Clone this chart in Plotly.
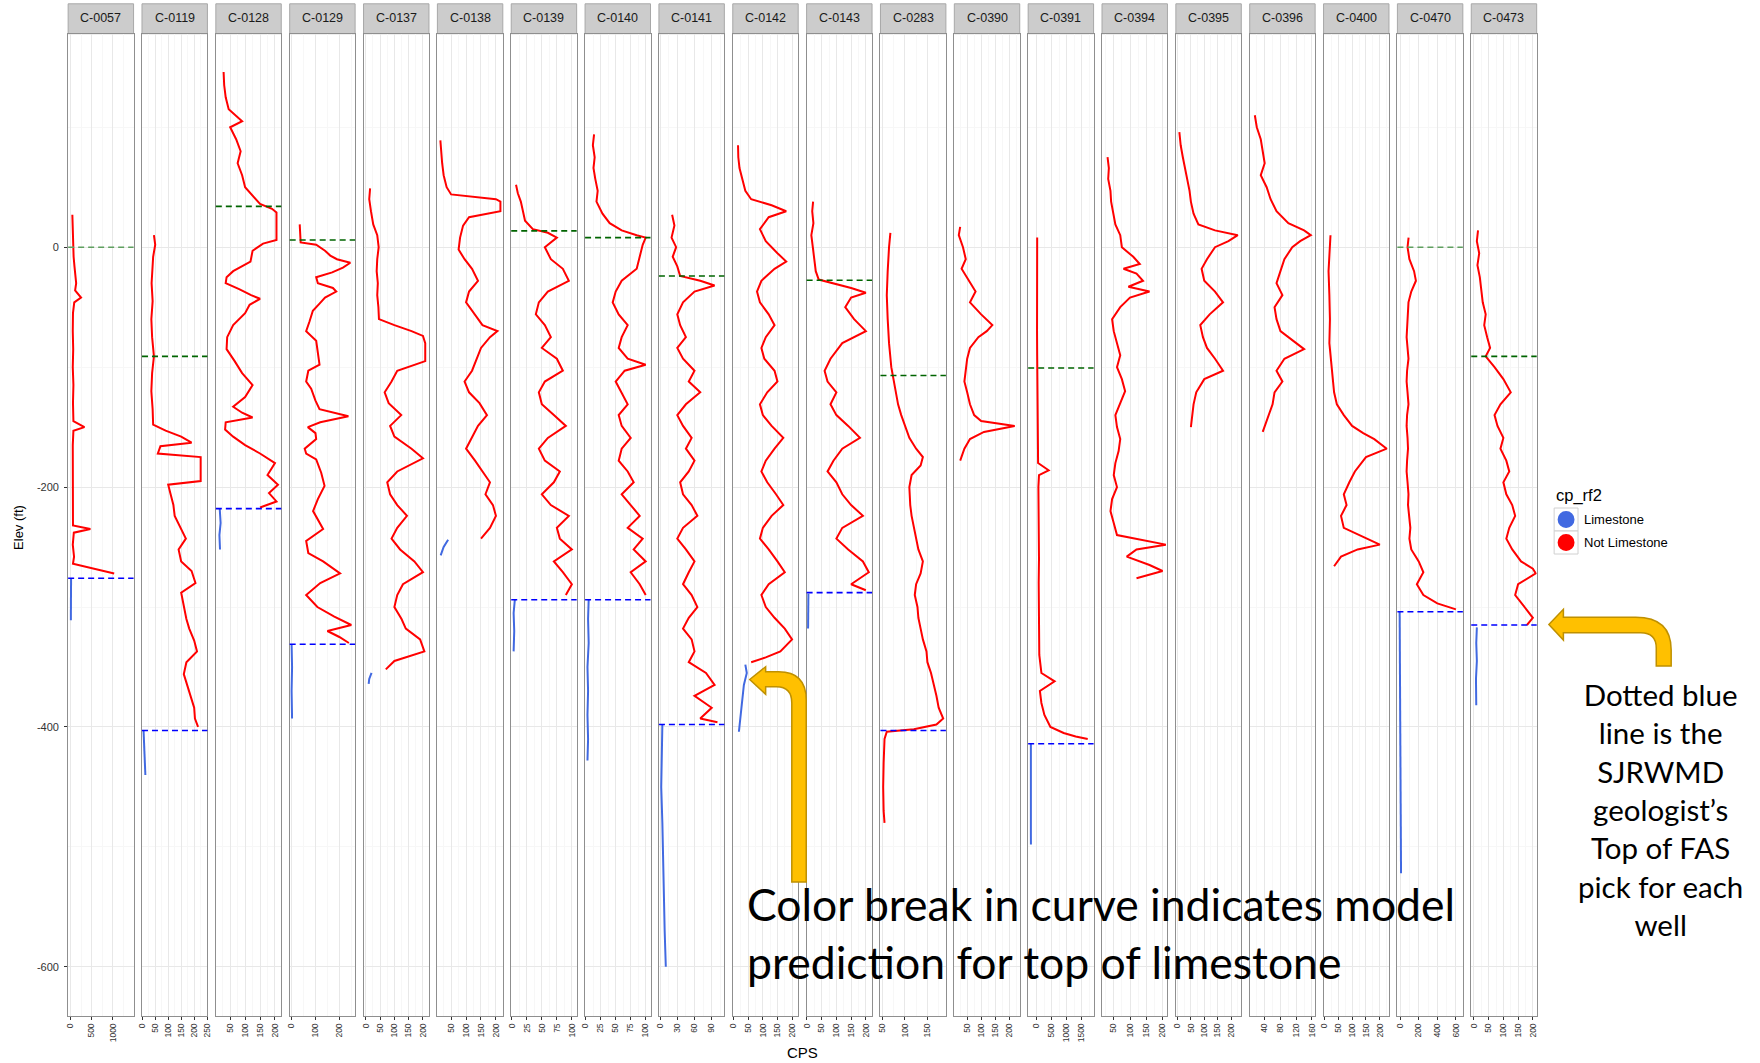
import plotly.graph_objects as go

# ---------------------------------------------------------------- data
WELLS = ["C-0057", "C-0119", "C-0128", "C-0129", "C-0137", "C-0138", "C-0139",
         "C-0140", "C-0141", "C-0142", "C-0143", "C-0283", "C-0390", "C-0391",
         "C-0394", "C-0395", "C-0396", "C-0400", "C-0470", "C-0473"]

# gamma log samples per well: (elevation ft, CPS)
C0057_NOT_LS = [(27,45),(18,50),(8,55),(0,60),(-8,75),(-16,95),(-24,120),(-30,135),(-36,110),(-42,250),(-46,90),(-55,60),(-70,55),(-85,65),(-100,55),(-115,70),(-130,60),(-145,70),(-150,330),(-153,70),(-165,55),(-180,60),(-195,50),(-210,55),(-222,70),(-232,60),(-235,470),(-238,80),(-248,55),(-258,85),(-264,60),(-266,290),(-268,520),(-270,730),(-272,1030)]
C0057_LS = [(-276,15),(-285,10),(-295,12),(-305,8),(-311,10)]

C0119_NOT_LS = [(10,45),(2,50),(-8,42),(-18,38),(-30,36),(-45,40),(-60,35),(-75,38),(-91,45),(-105,38),(-120,35),(-135,40),(-148,42),(-153,90),(-158,150),(-163,190),(-166,70),(-172,60),(-175,225),(-195,225),(-198,100),(-205,108),(-215,120),(-224,125),(-235,150),(-243,168),(-252,140),(-262,150),(-270,190),(-280,205),(-288,150),(-299,160),(-310,170),(-318,181),(-328,200),(-337,211),(-346,170),(-356,160),(-366,175),(-374,185),(-384,200),(-393,203),(-400,215)]
C0119_LS = [(-403,5),(-415,8),(-428,10),(-440,12)]

C0128_NOT_LS = [(146,28),(135,30),(125,35),(115,45),(105,90),(100,50),(90,70),(80,85),(70,75),(60,90),(50,100),(42,130),(36,150),(32,190),(29,205),(15,205),(6,205),(3,160),(-3,125),(-12,118),(-20,60),(-25,38),(-30,35),(-35,80),(-40,120),(-43,150),(-48,115),(-55,100),(-65,60),(-75,40),(-85,38),(-95,65),(-105,90),(-115,125),(-125,100),(-133,60),(-138,90),(-142,125),(-146,35),(-152,33),(-158,60),(-165,100),(-172,150),(-180,200),(-190,175),(-198,210),(-205,180),(-212,205),(-217,150)]
C0128_LS = [(-218,15),(-230,18),(-240,14),(-252,16)]

C0129_NOT_LS = [(19,34),(10,35),(4,38),(2,103),(-3,140),(-7,162),(-10,190),(-13,246),(-17,215),(-21,170),(-25,103),(-30,110),(-34,173),(-37,187),(-42,140),(-47,117),(-53,89),(-62,75),(-70,61),(-78,103),(-90,110),(-98,117),(-103,70),(-112,61),(-118,82),(-128,100),(-135,117),(-141,238),(-146,120),(-150,68),(-155,100),(-160,103),(-168,55),(-172,61),(-177,103),(-188,124),(-199,138),(-210,110),(-220,90),(-235,132),(-245,61),(-255,70),(-262,132),(-272,203),(-280,120),(-290,61),(-300,108),(-308,179),(-315,250),(-320,150),(-325,200),(-330,240)]
C0129_LS = [(-331,0),(-350,2),(-370,0),(-393,2)]

C0137_NOT_LS = [(49,15),(40,12),(30,18),(19,26),(10,40),(0,45),(-10,40),(-20,38),(-30,42),(-40,40),(-50,44),(-60,46),(-65,100),(-70,160),(-74,200),(-80,208),(-95,208),(-100,150),(-103,110),(-112,90),(-121,66),(-130,80),(-140,124),(-149,85),(-158,100),(-168,160),(-176,200),(-187,110),(-196,75),(-206,85),(-215,110),(-224,144),(-234,110),(-243,90),(-252,120),(-262,170),(-271,200),(-281,130),(-290,110),(-300,100),(-310,125),(-318,140),(-327,190),(-337,205),(-345,100),(-352,70)]
C0137_LS = [(-355,20),(-360,12),(-364,10)]

C0138_NOT_LS = [(89,14),(80,16),(70,20),(60,25),(50,35),(44,50),(42,120),(40,200),(38,215),(30,215),(25,110),(18,90),(8,80),(-2,75),(-10,95),(-18,120),(-28,140),(-37,110),(-46,100),(-56,130),(-65,155),(-70,205),(-75,180),(-84,150),(-93,135),(-103,120),(-112,95),(-121,110),(-130,145),(-140,170),(-149,140),(-159,120),(-168,100),(-178,130),(-187,155),(-196,180),(-206,165),(-215,190),(-224,200),(-234,180),(-243,150)]
C0138_LS = [(-244,40),(-250,25),(-257,15)]

C0139_NOT_LS = [(52,7),(45,10),(38,15),(30,18),(22,22),(15,35),(12,60),(8,75),(0,55),(-10,65),(-18,85),(-28,95),(-37,60),(-46,45),(-56,40),(-65,55),(-75,65),(-84,50),(-93,75),(-103,85),(-112,55),(-121,45),(-131,50),(-140,70),(-149,90),(-159,60),(-168,45),(-178,55),(-187,80),(-196,70),(-206,50),(-215,65),(-224,95),(-234,75),(-243,80),(-252,100),(-262,70),(-271,85),(-281,100),(-290,90)]
C0139_LS = [(-294,5),(-305,3),(-320,4),(-337,3)]

C0140_NOT_LS = [(94,14),(85,12),(75,15),(66,13),(57,16),(47,20),(38,18),(28,28),(20,40),(14,60),(10,85),(8,100),(2,95),(-8,90),(-18,85),(-28,60),(-37,50),(-46,45),(-56,55),(-65,70),(-75,60),(-84,55),(-93,70),(-98,100),(-103,65),(-112,50),(-121,60),(-131,70),(-140,55),(-149,60),(-159,75),(-168,60),(-178,55),(-187,70),(-196,80),(-206,60),(-215,75),(-224,90),(-234,70),(-243,95),(-252,80),(-262,100),(-271,75),(-281,90),(-290,100)]
C0140_LS = [(-294,5),(-310,4),(-330,5),(-350,3),(-370,4),(-390,3),(-410,4),(-428,3)]

C0141_NOT_LS = [(27,21),(18,25),(8,20),(0,28),(-8,22),(-16,30),(-24,35),(-28,70),(-32,95),(-37,60),(-46,40),(-56,30),(-65,35),(-75,45),(-84,30),(-93,40),(-103,60),(-112,50),(-121,70),(-131,45),(-140,30),(-149,40),(-159,55),(-168,45),(-178,60),(-187,50),(-196,35),(-206,40),(-215,55),(-224,65),(-234,40),(-243,30),(-252,45),(-262,60),(-271,50),(-281,40),(-290,55),(-300,65),(-309,50),(-318,40),(-327,55),(-337,60),(-346,50),(-355,80),(-365,95),(-374,60),(-384,90),(-393,70),(-396,100)]
C0141_LS = [(-398,4),(-420,3),(-450,2),(-480,4),(-510,5),(-540,6),(-570,8),(-600,10)]

C0142_NOT_LS = [(85,15),(75,16),(66,20),(57,30),(47,40),(40,60),(35,130),(30,180),(25,120),(15,90),(5,110),(-5,150),(-12,180),(-18,140),(-28,95),(-37,80),(-46,90),(-56,120),(-65,140),(-75,110),(-84,95),(-93,105),(-103,140),(-112,150),(-121,115),(-131,90),(-140,100),(-149,130),(-159,170),(-168,140),(-178,110),(-187,95),(-196,115),(-206,145),(-215,170),(-224,130),(-234,100),(-243,90),(-252,120),(-262,150),(-271,175),(-281,120),(-290,95),(-300,110),(-309,140),(-318,175),(-327,200),(-337,160),(-342,110),(-346,60)]
C0142_LS = [(-348,40),(-355,45),(-365,35),(-380,28),(-395,22),(-404,18)]

C0143_NOT_LS = [(38,21),(30,18),(20,22),(10,15),(0,20),(-10,25),(-20,30),(-27,40),(-30,90),(-34,150),(-38,200),(-42,150),(-50,130),(-60,160),(-70,200),(-80,120),(-93,80),(-103,60),(-112,70),(-121,100),(-131,80),(-140,100),(-149,140),(-159,180),(-168,120),(-178,90),(-187,70),(-196,100),(-206,120),(-215,150),(-224,190),(-234,120),(-243,100),(-252,140),(-262,190),(-271,210),(-281,150),(-286,200)]
C0143_LS = [(-289,5),(-300,4),(-310,5),(-318,4)]

C0283_NOT_LS = [(12,68),(0,65),(-20,62),(-40,60),(-60,62),(-80,65),(-100,70),(-112,76),(-121,80),(-131,85),(-140,92),(-149,100),(-159,110),(-168,125),(-175,140),(-182,135),(-190,115),(-200,110),(-215,112),(-224,115),(-234,120),(-243,125),(-252,130),(-262,140),(-272,135),(-281,125),(-290,122),(-300,128),(-309,130),(-318,135),(-327,140),(-337,148),(-346,150),(-355,158),(-365,165),(-374,170),(-384,175),(-393,185),(-398,170),(-402,120),(-404,60),(-410,55),(-430,53),(-450,52),(-470,53),(-480,55)]
C0283_LS = []

C0390_NOT_LS = [(17,25),(10,20),(0,35),(-10,45),(-18,30),(-28,55),(-37,80),(-46,60),(-56,100),(-65,140),(-70,120),(-75,90),(-84,60),(-93,50),(-103,45),(-112,40),(-121,50),(-131,60),(-140,75),(-145,100),(-149,220),(-154,110),(-160,60),(-168,40),(-178,25)]
C0390_LS = []

C0391_NOT_LS = [(8,20),(-10,15),(-30,20),(-50,10),(-70,15),(-90,20),(-100,25),(-120,20),(-140,30),(-160,35),(-180,50),(-186,400),(-190,80),(-200,60),(-220,70),(-240,55),(-260,80),(-280,70),(-300,80),(-320,70),(-340,90),(-355,160),(-362,600),(-370,110),(-380,160),(-390,260),(-400,460),(-405,900),(-408,1300),(-410,1700)]
C0391_LS = [(-414,-190),(-430,-195),(-450,-190),(-470,-185),(-490,-190),(-498,-188)]

C0394_NOT_LS = [(75,31),(66,35),(57,33),(47,40),(38,42),(28,48),(19,55),(10,70),(0,75),(-8,110),(-14,130),(-18,80),(-22,120),(-28,140),(-33,95),(-37,160),(-42,100),(-50,70),(-60,45),(-70,50),(-80,60),(-90,70),(-100,60),(-110,75),(-120,85),(-130,70),(-140,55),(-150,60),(-160,70),(-170,65),(-180,55),(-190,50),(-200,60),(-210,45),(-220,40),(-230,50),(-240,60),(-248,210),(-252,120),(-258,90),(-265,160),(-270,200),(-276,120)]
C0394_LS = []

C0395_NOT_LS = [(96,7),(85,12),(75,20),(66,28),(57,35),(47,45),(38,50),(28,60),(19,78),(14,140),(10,225),(5,190),(0,140),(-10,110),(-18,90),(-28,100),(-37,140),(-46,170),(-56,120),(-65,85),(-75,95),(-84,110),(-93,140),(-103,170),(-110,100),(-121,70),(-131,60),(-140,55),(-150,50)]
C0395_LS = []

C0396_NOT_LS = [(110,15),(100,20),(90,30),(80,35),(70,40),(60,30),(50,45),(40,55),(30,70),(20,100),(14,140),(10,157),(5,130),(0,110),(-10,90),(-20,80),(-30,70),(-40,85),(-50,65),(-60,70),(-70,80),(-80,120),(-85,140),(-93,90),(-103,70),(-112,85),(-121,65),(-131,60),(-140,50),(-150,40),(-154,35)]
C0396_LS = []

C0400_NOT_LS = [(10,22),(0,20),(-20,15),(-40,18),(-60,20),(-80,18),(-100,25),(-112,30),(-121,35),(-131,45),(-140,70),(-149,100),(-155,140),(-160,180),(-168,225),(-175,150),(-187,110),(-196,90),(-206,70),(-215,80),(-224,60),(-234,70),(-243,150),(-248,200),(-252,120),(-258,60),(-266,35)]
C0400_LS = []

C0470_NOT_LS = [(8,91),(0,80),(-10,100),(-20,150),(-28,170),(-37,120),(-46,90),(-56,85),(-65,75),(-75,70),(-84,80),(-93,90),(-103,75),(-112,70),(-121,80),(-131,90),(-140,75),(-149,70),(-159,80),(-168,85),(-178,75),(-187,70),(-196,80),(-206,90),(-215,85),(-224,95),(-234,110),(-243,100),(-252,120),(-262,200),(-271,250),(-281,180),(-290,250),(-297,400),(-302,600)]
C0470_LS = [(-304,-5),(-330,-3),(-360,0),(-400,2),(-440,0),(-480,5),(-500,8),(-522,10)]

C0473_NOT_LS = [(14,14),(5,10),(-5,18),(-15,12),(-25,20),(-37,25),(-46,30),(-56,40),(-65,35),(-75,45),(-84,55),(-91,40),(-100,70),(-110,100),(-121,125),(-131,90),(-140,70),(-149,80),(-159,100),(-168,90),(-178,110),(-187,120),(-196,100),(-206,110),(-215,130),(-224,140),(-234,120),(-243,110),(-252,130),(-262,160),(-268,200),(-272,210),(-281,150),(-290,140),(-300,170),(-309,200),(-315,180)]
C0473_LS = [(-317,10),(-330,8),(-345,10),(-360,7),(-382,8)]

NOT_LS = [C0057_NOT_LS, C0119_NOT_LS, C0128_NOT_LS, C0129_NOT_LS, C0137_NOT_LS,
          C0138_NOT_LS, C0139_NOT_LS, C0140_NOT_LS, C0141_NOT_LS, C0142_NOT_LS,
          C0143_NOT_LS, C0283_NOT_LS, C0390_NOT_LS, C0391_NOT_LS, C0394_NOT_LS,
          C0395_NOT_LS, C0396_NOT_LS, C0400_NOT_LS, C0470_NOT_LS, C0473_NOT_LS]
LS = [C0057_LS, C0119_LS, C0128_LS, C0129_LS, C0137_LS, C0138_LS, C0139_LS,
      C0140_LS, C0141_LS, C0142_LS, C0143_LS, C0283_LS, C0390_LS, C0391_LS,
      C0394_LS, C0395_LS, C0396_LS, C0400_LS, C0470_LS, C0473_LS]

# formation tops (ft); None where no pick exists
UPPER_PICK = [0, -91, 34, 6, None, None, 13.6, 8, -24, None, -27.6, -107, None,
              -100.7, None, None, None, None, 0, -91]
FAS_PICK = [-276, -403, -218, -331, None, None, -294, -294, -398, None, -288,
            -403, None, -414, None, None, None, None, -304, -315]

# per-panel CPS axis breaks and limits
X_TICKS = [[0, 500, 1000], [0, 50, 100, 150, 200, 250], [50, 100, 150, 200],
           [0, 100, 200], [0, 50, 100, 150, 200], [50, 100, 150, 200],
           [0, 25, 50, 75, 100], [0, 25, 50, 75, 100], [0, 30, 60, 90],
           [0, 50, 100, 150, 200], [0, 50, 100, 150, 200], [50, 100, 150],
           [50, 100, 150, 200], [0, 500, 1000, 1500], [50, 100, 150, 200],
           [0, 50, 100, 150, 200], [40, 80, 120, 160], [0, 50, 100, 150, 200],
           [0, 200, 400, 600], [0, 50, 100, 150, 200]]
X_LIMITS = [[-54, 1486], [-1, 251], [2, 221], [-8, 266], [-8, 221], [4, 223],
            [-1, 108], [-1, 108], [-2, 112], [-3, 221], [-1, 221], [46, 191],
            [4, 238], [-280, 1895], [14, 215], [-6, 238], [2, 168], [-3, 233],
            [-29, 674], [-9, 213]]

Y_TICKS = [0, -200, -400, -600]
Y_LIMITS = [-641, 178]

# ---------------------------------------------------------------- layout helpers
W, H = 1760, 1063
P_LEFT0, P_PITCH, P_WIDTH = 63.5, 74.27, 65.8
P_TOP, P_BOTTOM = 33.7, 1016.0
STRIP_TOP = 3.8

RED = "#FF0000"
BLUE = "#4169E1"
FONT = "Liberation Sans, Arial, sans-serif"


def px(x):
    return x / W


def py(y):
    return 1 - y / H


def minor_breaks(ticks, lo, hi):
    if len(ticks) < 2:
        return []
    step = ticks[1] - ticks[0]
    vals = [t + step / 2 for t in ticks[:-1]]
    vals = [ticks[0] - step / 2] + vals + [ticks[-1] + step / 2]
    return [v for v in vals if lo <= v <= hi]


fig = go.Figure()
shapes = []
annotations = []
layout_axes = {}

for i, well in enumerate(WELLS):
    n = i + 1
    xs = "" if n == 1 else str(n)
    left = P_LEFT0 + i * P_PITCH
    right = left + P_WIDTH

    for pts, color in ((NOT_LS[i], RED), (LS[i], BLUE)):
        if not pts:
            continue
        fig.add_trace(go.Scatter(
            x=[p[1] for p in pts], y=[p[0] for p in pts],
            mode="lines",
            line=dict(color=color, width=2),
            xaxis="x" + xs, yaxis="y" + xs,
            showlegend=False, hoverinfo="skip"))

    lo, hi = X_LIMITS[i]
    layout_axes["xaxis" + xs] = dict(
        domain=[px(left), px(right)], range=[lo, hi], anchor="y" + xs,
        tickvals=X_TICKS[i], ticktext=[str(t) for t in X_TICKS[i]],
        tickangle=-90, tickfont=dict(family=FONT, size=8.5, color="#333333"),
        ticks="outside", ticklen=3, tickcolor="#333333", tickwidth=1,
        showgrid=True, gridcolor="#e8e8e8", gridwidth=1,
        minor=dict(tickvals=minor_breaks(X_TICKS[i], lo, hi), showgrid=True,
                   gridcolor="#f7f7f7", ticks=""),
        showline=True, mirror=True, linecolor="#8f8f8f", linewidth=1,
        zeroline=False, fixedrange=True)
    layout_axes["yaxis" + xs] = dict(
        domain=[py(P_BOTTOM), py(P_TOP)], range=Y_LIMITS, anchor="x" + xs,
        tickvals=Y_TICKS, ticktext=[str(t) for t in Y_TICKS],
        showticklabels=(n == 1), ticklabelstandoff=3,
        tickfont=dict(family=FONT, size=11, color="#333333"),
        ticks="outside" if n == 1 else "", ticklen=3, tickcolor="#333333",
        showgrid=True, gridcolor="#e8e8e8", gridwidth=1,
        minor=dict(tickvals=[100, -100, -300, -500], showgrid=True,
                   gridcolor="#f7f7f7", ticks=""),
        showline=True, mirror=True, linecolor="#8f8f8f", linewidth=1,
        zeroline=False, fixedrange=True)

    # formation-top picks
    if UPPER_PICK[i] is not None:
        faint = UPPER_PICK[i] == 0
        shapes.append(dict(type="line", xref="x" + xs + " domain", yref="y" + xs,
                           x0=0, x1=1, y0=UPPER_PICK[i], y1=UPPER_PICK[i],
                           line=dict(color="#5f9f5f" if faint else "#006400",
                                     width=1.6, dash="6px,4px")))
    if FAS_PICK[i] is not None:
        shapes.append(dict(type="line", xref="x" + xs + " domain", yref="y" + xs,
                           x0=0, x1=1, y0=FAS_PICK[i], y1=FAS_PICK[i],
                           line=dict(color="#0000FF", width=1.6, dash="6px,4px")))

    # facet strip
    shapes.append(dict(type="rect", xref="paper", yref="paper",
                       x0=px(left), x1=px(right), y0=py(P_TOP), y1=py(STRIP_TOP),
                       fillcolor="#cccccc", line=dict(color="#a8a8a8", width=1),
                       layer="below"))
    annotations.append(dict(xref="paper", yref="paper",
                            x=px((left + right) / 2), y=py((P_TOP + STRIP_TOP) / 2 - 1),
                            text=well, showarrow=False, xanchor="center",
                            yanchor="middle",
                            font=dict(family=FONT, size=12.5, color="#1a1a1a")))

fig.update_layout(**layout_axes)

# axis titles
annotations.append(dict(xref="paper", yref="paper", x=px(802), y=py(1052),
                        text="CPS", showarrow=False, xanchor="center",
                        yanchor="middle",
                        font=dict(family=FONT, size=15, color="#000000")))
annotations.append(dict(xref="paper", yref="paper", x=px(13), y=py(527),
                        text="Elev (ft)", showarrow=False, textangle=-90,
                        xanchor="center", yanchor="middle",
                        font=dict(family=FONT, size=13, color="#000000")))

# legend (cp_rf2)
LEG_X, LEG_KEY = 1558, 23
annotations.append(dict(xref="paper", yref="paper", x=px(LEG_X), y=py(495),
                        text="cp_rf2", showarrow=False, xanchor="left",
                        yanchor="middle",
                        font=dict(family=FONT, size=16.5, color="#000000")))
for k, (label, color) in enumerate((("Limestone", BLUE), ("Not Limestone", RED))):
    top = 508 + k * LEG_KEY
    shapes.append(dict(type="rect", xref="paper", yref="paper",
                       x0=px(LEG_X), x1=px(LEG_X + 24), y0=py(top + LEG_KEY),
                       y1=py(top), fillcolor="#ffffff",
                       line=dict(color="#d0d0d0", width=1)))
    cx, cy, r = LEG_X + 12, top + LEG_KEY / 2, 8.5
    shapes.append(dict(type="circle", xref="paper", yref="paper",
                       x0=px(cx - r), x1=px(cx + r), y0=py(cy + r), y1=py(cy - r),
                       fillcolor=color, line=dict(width=0)))
    annotations.append(dict(xref="paper", yref="paper", x=px(LEG_X + 28),
                            y=py(cy), text=label, showarrow=False,
                            xanchor="left", yanchor="middle",
                            font=dict(family=FONT, size=13, color="#000000")))


# callout arrows (bent block arrows)
def block_path(cmds):
    out = []
    for c in cmds:
        op, nums = c[0], c[1:]
        coords = []
        for j in range(0, len(nums), 2):
            coords.append("%.5f,%.5f" % (px(nums[j]), py(nums[j + 1])))
        out.append(op + " ".join(coords))
    return " ".join(out) + " Z"


ARROW_STYLE = dict(fillcolor="#FFC000", line=dict(color="#BF9000", width=1.5))
arrow_a = [("M", 791.3, 882), ("L", 791.3, 703), ("Q", 791.3, 686.7, 776, 686.7),
           ("L", 765, 686.7), ("L", 765, 694.3), ("L", 749, 679.5),
           ("L", 765, 666.7), ("L", 765, 671.7), ("L", 778, 671.7),
           ("Q", 805.8, 671.7, 805.8, 700), ("L", 805.8, 882)]
arrow_b = [("M", 1660.7, 666), ("L", 1660.7, 648), ("Q", 1660.7, 632.7, 1645, 632.7),
           ("L", 1567.3, 632.7), ("L", 1567.3, 640), ("L", 1552.7, 624.5),
           ("L", 1567.3, 609.3), ("L", 1567.3, 617.3), ("L", 1640, 617.3),
           ("Q", 1675.7, 617.3, 1675.7, 650), ("L", 1675.7, 666)]
for a in (arrow_a, arrow_b):
    shapes.append(dict(type="path", xref="paper", yref="paper",
                       path=block_path(a), **ARROW_STYLE))

CALLOUT_FONT = "Lato, Carlito, Open Sans, sans-serif"
annotations.append(dict(xref="paper", yref="paper", x=px(744), y=py(903),
                        text="Color break in curve indicates model",
                        showarrow=False, xanchor="left", yanchor="middle",
                        font=dict(family=CALLOUT_FONT, size=44.5, color="#000000")))
annotations.append(dict(xref="paper", yref="paper", x=px(744), y=py(961),
                        text="prediction for top of limestone",
                        showarrow=False, xanchor="left", yanchor="middle",
                        font=dict(family=CALLOUT_FONT, size=44.5, color="#000000")))
annotations.append(dict(xref="paper", yref="paper", x=px(1665), y=py(809),
                        text="Dotted blue<br>line is the<br>SJRWMD<br>geologist’s<br>"
                             "Top of FAS<br>pick for each<br>well",
                        showarrow=False, xanchor="center", yanchor="middle",
                        align="center",
                        font=dict(family=CALLOUT_FONT, size=29.5, color="#000000")))

fig.update_layout(
    width=W, height=H, margin=dict(l=0, r=0, t=0, b=0),
    paper_bgcolor="#ffffff", plot_bgcolor="#ffffff",
    showlegend=False, shapes=shapes, annotations=annotations)

fig.write_html("out.html")
